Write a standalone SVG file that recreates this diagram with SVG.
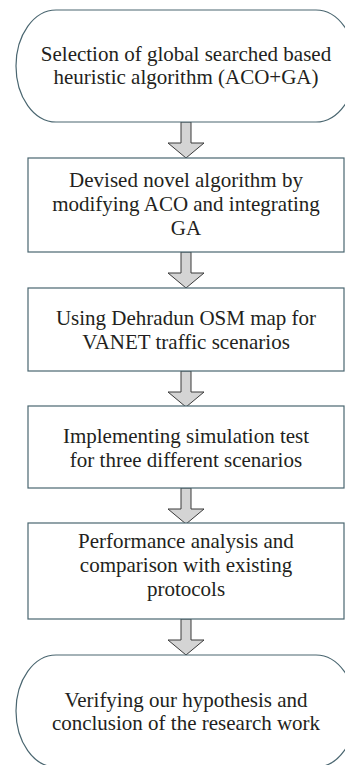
<svg xmlns="http://www.w3.org/2000/svg" width="345" height="765" viewBox="0 0 345 765">
  <style>
    .shape { fill: #ffffff; stroke: #4a6670; stroke-width: 1.2; }
    .arrow { fill: #d4d4d4; stroke: #3a3a3a; stroke-width: 1; stroke-linejoin: miter; }
    .label { font-family: "Liberation Serif", "Times New Roman", serif; font-size: 21px; fill: #231f20; text-anchor: middle; }
  </style>
  <defs>
    <!-- block arrow pointing down, origin at the top centre of the shaft, 35 px long -->
    <path id="down-arrow" d="M -5 0 H 5 V 21 H 18 L 0 36 L -18 21 H -5 Z"/>
  </defs>

  <g id="connectors">
    <use href="#down-arrow" class="arrow" x="186" y="122"/>
    <use href="#down-arrow" class="arrow" x="186" y="252"/>
    <use href="#down-arrow" class="arrow" x="186" y="371"/>
    <use href="#down-arrow" class="arrow" x="186" y="488"/>
    <use href="#down-arrow" class="arrow" x="186" y="619"/>
  </g>

  <g id="start">
    <rect class="shape" x="16" y="10" width="340" height="112" rx="40" ry="56"/>
    <text class="label" x="186" y="61">Selection of global searched based</text>
    <text class="label" x="186" y="84">heuristic algorithm (ACO+GA)</text>
  </g>

  <g id="devise">
    <rect class="shape" x="28" y="158" width="316" height="94"/>
    <text class="label" x="186" y="187">Devised novel algorithm by</text>
    <text class="label" x="186" y="211">modifying ACO and integrating</text>
    <text class="label" x="186" y="235">GA</text>
  </g>

  <g id="osm-map">
    <rect class="shape" x="28" y="288" width="316" height="83"/>
    <text class="label" x="186" y="325">Using Dehradun OSM map for</text>
    <text class="label" x="186" y="349">VANET traffic scenarios</text>
  </g>

  <g id="simulation">
    <rect class="shape" x="28" y="406" width="316" height="82"/>
    <text class="label" x="186" y="443">Implementing simulation test</text>
    <text class="label" x="186" y="467">for three different scenarios</text>
  </g>

  <g id="analysis">
    <rect class="shape" x="28" y="523" width="316" height="96"/>
    <text class="label" x="186" y="548">Performance analysis and</text>
    <text class="label" x="186" y="572">comparison with existing</text>
    <text class="label" x="186" y="596">protocols</text>
  </g>

  <g id="end">
    <rect class="shape" x="16" y="655" width="340" height="112" rx="40" ry="56"/>
    <text class="label" x="186" y="707">Verifying our hypothesis and</text>
    <text class="label" x="186" y="730">conclusion of the research work</text>
  </g>
</svg>
